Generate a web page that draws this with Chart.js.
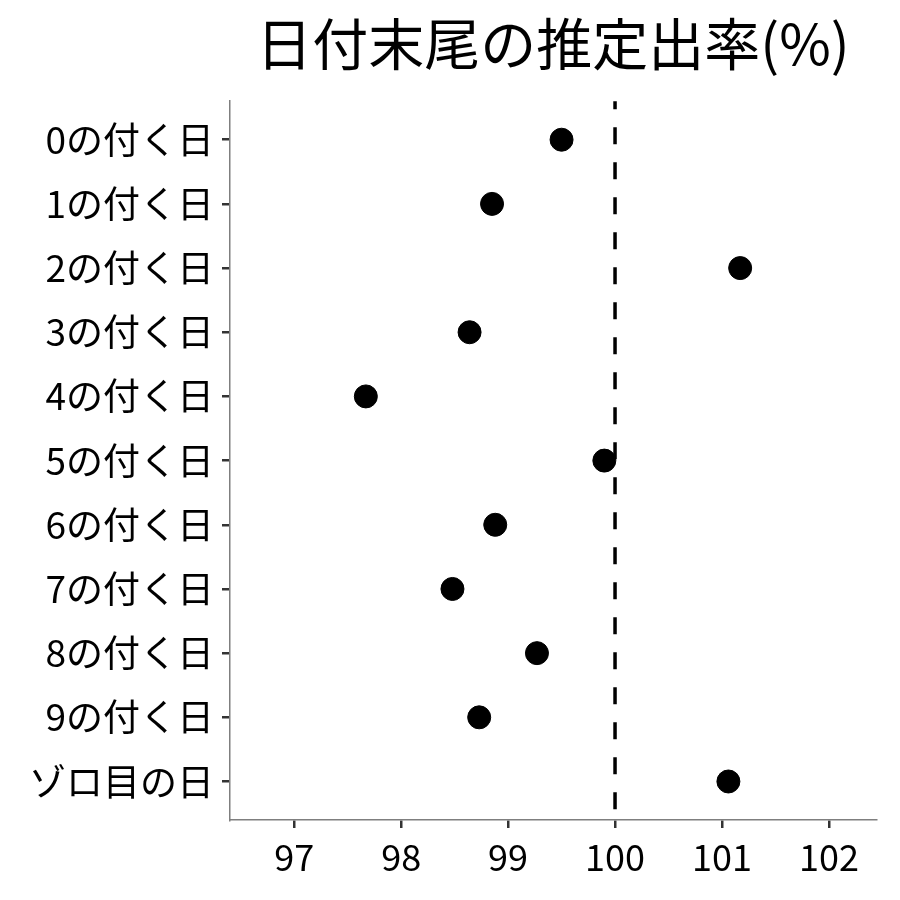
<!DOCTYPE html>
<html>
<head>
<meta charset="utf-8">
<script src="https://cdn.jsdelivr.net/npm/chart.js@4.4.0/dist/chart.umd.min.js"></script>
<style>
    html, body { margin: 0; padding: 0; background: #fff; }
    #wrap { width: 900px; height: 900px; }
</style>
</head>
<body>
<div id="wrap"><canvas id="rate-chart" width="900" height="900"></canvas></div>
<script>
// Categories (top to bottom) and estimated payout rate (%)
const categories = ['0の付く日', '1の付く日', '2の付く日', '3の付く日', '4の付く日',
    '5の付く日', '6の付く日', '7の付く日', '8の付く日', '9の付く日', 'ゾロ目の日'];
const payoutRates = [99.50, 98.85, 101.17, 98.64, 97.67, 99.90, 98.88, 98.48, 99.27, 98.73, 101.06];
const xTicks = [97, 98, 99, 100, 101, 102];
const referenceRate = 100;

const fontFamily = '"Noto Sans CJK JP", "Noto Sans", sans-serif';

// Dashed vertical line at the reference rate
const refLinePlugin = {
    id: 'refLine',
    beforeDatasetsDraw(chart) {
        const { ctx, chartArea, scales } = chart;
        const x = scales.x.getPixelForValue(referenceRate);
        ctx.save();
        ctx.strokeStyle = '#000';
        ctx.lineWidth = 3.5;
        ctx.setLineDash([17, 18]);
        ctx.lineDashOffset = 9;
        ctx.beginPath();
        ctx.moveTo(x, chartArea.top);
        ctx.lineTo(x, chartArea.bottom);
        ctx.stroke();
        ctx.restore();
    }
};

const points = payoutRates.map((v, i) => ({ x: v, y: i }));

new Chart(document.getElementById('rate-chart'), {
    type: 'scatter',
    data: {
        datasets: [{
            data: points,
            backgroundColor: '#000',
            borderColor: '#000',
            pointRadius: 11.5,
            pointHoverRadius: 11.5
        }]
    },
    options: {
        responsive: false,
        animation: false,
        maintainAspectRatio: false,
        layout: { padding: { top: 0, right: 24, bottom: 0, left: 0 } },
        plugins: {
            legend: { display: false },
            tooltip: { enabled: false },
            title: {
                display: true,
                fullSize: false,
                text: '日付末尾の推定出率(%)',
                color: '#000',
                font: { family: fontFamily, size: 56, weight: 'normal' },
                padding: { top: 10, bottom: 24 }
            }
        },
        scales: {
            x: {
                type: 'linear',
                min: 96.4,
                max: 102.44,
                afterBuildTicks: scale => { scale.ticks = xTicks.map(v => ({ value: v })); },
                afterFit: scale => { scale.height = 80; },
                grid: { drawOnChartArea: false, drawTicks: true, tickLength: 8, color: '#333', lineWidth: 2.5 },
                border: { display: true, color: '#7f7f7f', width: 1.5 },
                ticks: {
                    color: '#000',
                    padding: 8,
                    font: { family: fontFamily, size: 36 },
                    callback: v => String(v)
                }
            },
            y: {
                type: 'linear',
                reverse: true,
                min: -0.6,
                max: categories.length - 1 + 0.6,
                afterBuildTicks: scale => { scale.ticks = categories.map((c, i) => ({ value: i })); },
                afterFit: scale => { scale.width = 230; },
                grid: { drawOnChartArea: false, drawTicks: true, tickLength: 8, color: '#333', lineWidth: 2.5 },
                border: { display: true, color: '#7f7f7f', width: 1.5 },
                ticks: {
                    color: '#000',
                    padding: 8,
                    font: { family: fontFamily, size: 37 },
                    callback: v => categories[v]
                }
            }
        }
    },
    plugins: [refLinePlugin]
});
</script>
</body>
</html>
